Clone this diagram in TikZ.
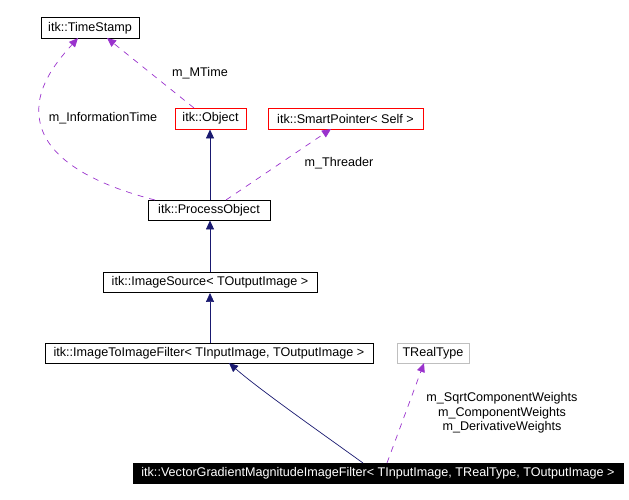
\documentclass[tikz,border=0pt]{standalone}
\usepackage{fontspec}
\setmainfont{Liberation Sans}
\usetikzlibrary{arrows.meta}
\definecolor{navyc}{HTML}{191970}
\definecolor{purp}{HTML}{9A32CD}
\definecolor{grayb}{HTML}{BFBFBF}
\tikzset{
  cls/.style={draw=black, line width=0.9pt, inner sep=0pt, font=\fontsize{12.6}{14}\selectfont, fill=white},
  redcls/.style={cls, draw=red},
  graycls/.style={cls, draw=grayb},
  blackcls/.style={cls, fill=black, text=white},
  inherit/.style={draw=navyc, line width=0.7pt, -{Triangle[length=9pt,width=8pt]}},
  usage/.style={draw=purp, line width=0.7pt, dash pattern=on 6pt off 6pt, -{Triangle[length=9pt,width=8pt]}},
  lbl/.style={font=\fontsize{12.6}{14.5}\selectfont, inner sep=0pt, align=center},
}
\begin{document}
\begin{tikzpicture}[x=1pt,y=-1pt]
\useasboundingbox (0,0) rectangle (629,500);
\node[cls, minimum width=98pt, minimum height=21pt] (ts) at (90,28) {itk::TimeStamp};
\node[redcls, minimum width=71pt, minimum height=21pt] (obj) at (210.5,118.5) {itk::Object};
\node[redcls, minimum width=155pt, minimum height=21pt] (sp) at (345.5,118.5) {itk::SmartPointer< Self >};
\node[cls, minimum width=122pt, minimum height=20pt] (po) at (209,210) {itk::ProcessObject};
\node[cls, minimum width=214pt, minimum height=20pt] (is) at (210,282.5) {itk::ImageSource< TOutputImage >};
\node[cls, minimum width=328pt, minimum height=20pt] (itf) at (209,353) {itk::ImageToImageFilter< TInputImage, TOutputImage >};
\node[graycls, minimum width=72pt, minimum height=20pt] (rt) at (433,353) {TRealType};
\node[blackcls, minimum width=490pt, minimum height=20pt] (vg) at (378,473) {itk::VectorGradientMagnitudeImageFilter< TInputImage, TRealType, TOutputImage >};

\coordinate (potop) at (210,200);
\draw[inherit] (potop) -- (obj.south -| potop);
\draw[inherit] (is.north -| potop) -- (po.south -| potop);
\draw[inherit] (itf.north -| potop) -- (is.south -| potop);

\coordinate (vgs) at (363,463);
\coordinate (itft) at (229,363);
\draw[inherit] (vgs) .. controls (320,432) and (260,390) .. (itft);

\coordinate (rts1) at (387,463);
\coordinate (rtt) at (424,363);
\draw[usage] (rts1) -- (rtt);
\node[lbl] at (502,413) {m\_SqrtComponentWeights\\m\_ComponentWeights\\m\_DerivativeWeights};

\coordinate (objtop) at (194,108);
\coordinate (tsb1) at (107,38);
\draw[usage] (objtop) -- (tsb1);
\node[lbl] at (200,73) {m\_MTime};

\coordinate (po1) at (155,200);
\coordinate (tsb2) at (78,38);
\draw[usage] (po1) .. controls (100,186) and (42,160) .. (39,115) .. controls (36,85) and (60,58) .. (tsb2);
\node[lbl] at (103,118) {m\_InformationTime};

\coordinate (po2) at (226,200);
\coordinate (spb) at (331,129);
\draw[usage] (po2) -- (spb);
\node[lbl] at (339,163) {m\_Threader};
\end{tikzpicture}
\end{document}
